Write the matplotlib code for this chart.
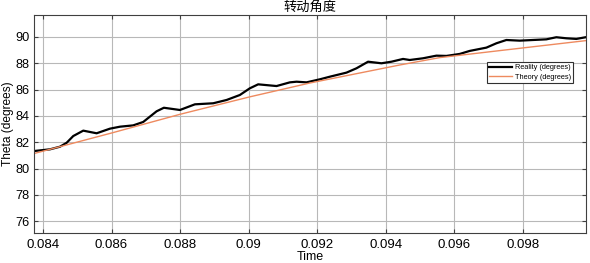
import matplotlib
matplotlib.use("Agg")
import matplotlib.pyplot as plt
from matplotlib.ticker import FuncFormatter

reality_t = [0.083738, 0.084204, 0.084496, 0.084691, 0.084883, 0.085175, 0.085565,
             0.085953, 0.086245, 0.086632, 0.086924, 0.087314, 0.087527, 0.087994,
             0.088431, 0.088965, 0.089355, 0.089743, 0.090035, 0.090277, 0.090813,
             0.091201, 0.091397, 0.091687, 0.092075, 0.092367, 0.092853, 0.093145,
             0.093483, 0.093873, 0.094165, 0.094503, 0.094698, 0.095086, 0.095476,
             0.095768, 0.096156, 0.096448, 0.096934, 0.097226, 0.097517, 0.097905,
             0.098293, 0.098683, 0.098975, 0.099266, 0.099558, 0.099829]
reality_v = [81.33, 81.46, 81.66, 81.96, 82.47, 82.88, 82.68,
             83.03, 83.18, 83.28, 83.54, 84.35, 84.62, 84.45,
             84.88, 84.96, 85.21, 85.59, 86.10, 86.40, 86.27,
             86.55, 86.60, 86.55, 86.78, 86.98, 87.29, 87.62,
             88.12, 88.00, 88.12, 88.33, 88.25, 88.38, 88.58,
             88.56, 88.71, 88.94, 89.19, 89.52, 89.77, 89.72,
             89.77, 89.82, 89.98, 89.90, 89.85, 89.98]
theory_t = [0.083738, 0.086000, 0.087994, 0.090035, 0.091784, 0.094406, 0.095572,
            0.097313, 0.099829]
theory_v = [81.14, 82.70, 84.12, 85.45, 86.50, 87.87, 88.43,
            88.96, 89.72]

xticks = [0.084, 0.086, 0.088, 0.090, 0.092, 0.094, 0.096, 0.098]
yticks = [76, 78, 80, 82, 84, 86, 88, 90]

plt.rcParams['font.family'] = ['Liberation Sans', 'Noto Sans CJK SC', 'DejaVu Sans']

fig = plt.figure(figsize=(5.9, 2.63), dpi=100)
ax = fig.add_axes([34/590, 30/263, 552/590, 218/263])

ax.plot(reality_t, reality_v, color='black', lw=1.6, label='Reality (degrees)',
        solid_joinstyle='round')
ax.plot(theory_t, theory_v, color='#EE8A5F', lw=1.0, label='Theory (degrees)')

ax.set_xlim(0.083738, 0.09984)
ax.set_ylim(75.1, 91.67)
ax.set_xticks(xticks)
ax.set_yticks(yticks)
ax.xaxis.set_major_formatter(FuncFormatter(lambda v, p: ('%.3f' % v).rstrip('0')))
ax.grid(True, color='#b8b8b8', lw=0.8)
ax.set_axisbelow(True)
ax.tick_params(direction='in', top=True, right=True, labelsize=9.5, length=3,
               color='#404040', pad=4)
ax.tick_params(axis='y', pad=3, labelsize=9.2)
for s in ax.spines.values():
    s.set_color('#404040')
    s.set_linewidth(0.8)

ax.set_title('转动角度', fontsize=9.5, family=['Noto Sans CJK SC', 'DejaVu Sans'], pad=2)
ax.set_xlabel('Time', fontsize=9, labelpad=0)
ax.set_ylabel('Theta (degrees)', fontsize=8.6)
ax.yaxis.set_label_coords(-0.037, 0.5)

leg = ax.legend(loc='upper left', bbox_to_anchor=(0.82, 0.785), fontsize=5.3,
                frameon=True, fancybox=False, edgecolor='#303030', framealpha=1,
                borderpad=0.3, handlelength=3.2, handletextpad=0.3,
                labelspacing=0.35, borderaxespad=0)
leg.get_frame().set_linewidth(0.8)

fig.savefig('out.png', dpi=100)
